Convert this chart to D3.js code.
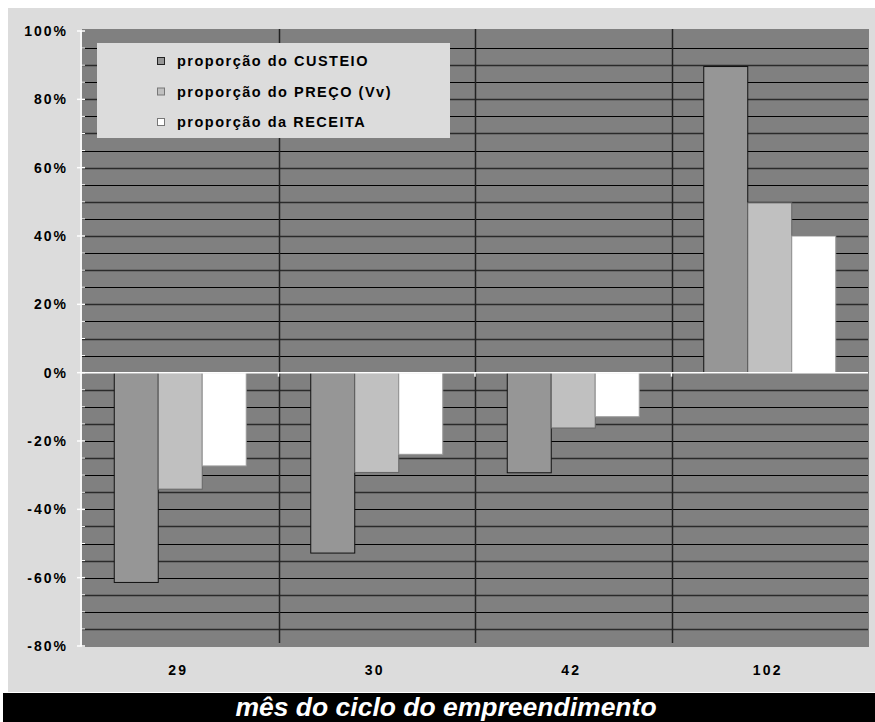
<!DOCTYPE html>
<html>
<head>
<meta charset="utf-8">
<script src="https://cdn.jsdelivr.net/npm/d3@7"></script>
<style>
  body { margin: 0; background: #fff; }
  text { font-family: "Liberation Sans", Arial, sans-serif; font-weight: bold; }
</style>
</head>
<body>
<div id="chart"></div>
<script>
// values (percent)
const categories = ["29", "30", "42", "102"];
const seriesNames = ["proporção do CUSTEIO", "proporção do PREÇO (Vv)", "proporção da RECEITA"];
const custeio = [-61.4, -52.8, -29.3, 89.6];
const preco = [-34.1, -29.2, -16.2, 49.7];
const receita = [-27.3, -23.9, -12.9, 40.0];
const yTicks = [100, 80, 60, 40, 20, 0, -20, -40, -60, -80];

const fills = ["#969696", "#c0c0c0", "#ffffff"];
const strokes = ["#111", "#666", "#999"];

const width = 875, height = 722;
const plot = {left: 82, right: 868, top: 31, bottom: 646};

const svg = d3.select("#chart").append("svg")
    .attr("width", width)
    .attr("height", height);

// background panels
svg.append("rect").attr("x", 8).attr("y", 8).attr("width", width - 8).attr("height", 684)
    .attr("fill", "#dcdcdc");
svg.append("rect").attr("x", 3).attr("y", 693).attr("width", width - 3).attr("height", 29)
    .attr("fill", "#000");

const x = d3.scaleBand().domain(categories).range([plot.left, plot.right]);
const xs = d3.scaleBand().domain(d3.range(3)).range([0, x.bandwidth()]).paddingOuter(0.733);
const y = d3.scaleLinear().domain([-80, 100]).range([plot.bottom, plot.top]);

// plot area
svg.append("rect")
    .attr("x", plot.left).attr("y", plot.top - 2)
    .attr("width", plot.right - plot.left + 1).attr("height", plot.bottom - plot.top + 3)
    .attr("fill", "#808080");

// gridlines every 5%
const grid = d3.range(-75, 100, 5).filter(d => d !== 0);
svg.append("g").selectAll("line").data(grid).enter().append("line")
    .attr("x1", plot.left).attr("x2", plot.right)
    .attr("y1", d => Math.round(y(d)) + 0.5).attr("y2", d => Math.round(y(d)) + 0.5)
    .attr("stroke", (d, i) => i % 2 ? "#000" : "#2a2a2a")
    .attr("stroke-width", (d, i) => i % 2 ? 1 : 1.5);

// category separators
svg.append("g").selectAll("line").data(categories.slice(1)).enter().append("line")
    .attr("x1", d => Math.round(x(d)) + 0.5).attr("x2", d => Math.round(x(d)) + 0.5)
    .attr("y1", plot.top - 2).attr("y2", plot.bottom - 3)
    .attr("stroke", "#222").attr("stroke-width", 1.5);

// legend box
const legend = svg.append("g");
legend.append("rect").attr("x", 97).attr("y", 43).attr("width", 353).attr("height", 95)
    .attr("fill", "#dcdcdc");

// bars
const data = [custeio, preco, receita];
data.forEach((vals, s) => {
    svg.append("g").selectAll("rect").data(vals).enter().append("rect")
        .attr("x", (d, i) => x(categories[i]) + xs(s))
        .attr("width", xs.bandwidth())
        .attr("y", d => y(Math.max(0, d)))
        .attr("height", d => Math.abs(y(d) - y(0)))
        .attr("fill", fills[s])
        .attr("stroke", strokes[s])
        .attr("stroke-width", 1);
});

// zero line
svg.append("line")
    .attr("x1", plot.left - 1).attr("x2", plot.right)
    .attr("y1", y(0)).attr("y2", y(0))
    .attr("stroke", "#fff").attr("stroke-width", 1.5);
// small ticks on zero line at category boundaries
svg.append("g").selectAll("line").data(categories.slice(1)).enter().append("line")
    .attr("x1", d => x(d)).attr("x2", d => x(d))
    .attr("y1", y(0)).attr("y2", y(0) + 4)
    .attr("stroke", "#fff").attr("stroke-width", 1.5);

// y axis
const yAxis = svg.append("g").attr("transform", "translate(" + (plot.left - 1) + ",0)");
yAxis.append("line").attr("y1", plot.top).attr("y2", plot.bottom)
    .attr("stroke", "#fff").attr("stroke-width", 1.5);
yAxis.selectAll(".minor").data(d3.range(-75, 100, 5).filter(d => d % 20 !== 0)).enter()
    .append("line")
    .attr("x1", 0).attr("x2", 4)
    .attr("y1", d => y(d)).attr("y2", d => y(d))
    .attr("stroke", "#fff").attr("stroke-width", 1);
yAxis.selectAll(".major").data(yTicks).enter().append("line")
    .attr("x1", -4).attr("x2", 4)
    .attr("y1", d => y(d)).attr("y2", d => y(d))
    .attr("stroke", "#fff").attr("stroke-width", 1.5);
yAxis.selectAll("text").data(yTicks).enter().append("text")
    .attr("x", -13)
    .attr("y", d => y(d) + 5)
    .attr("text-anchor", "end")
    .attr("font-size", 14)
    .attr("letter-spacing", 2)
    .attr("fill", "#000")
    .text(d => d + "%");

// x labels
svg.append("g").selectAll("text").data(categories).enter().append("text")
    .attr("x", d => x(d) + x.bandwidth() / 2 - 2)
    .attr("y", 675)
    .attr("text-anchor", "middle")
    .attr("font-size", 14)
    .attr("letter-spacing", 2.2)
    .attr("fill", "#000")
    .text(d => d);

// legend entries
seriesNames.forEach((name, i) => {
    const ly = 57 + i * 30.5;
    legend.append("rect").attr("x", 157.5).attr("y", ly + 0.5).attr("width", 7).attr("height", 7)
        .attr("fill", fills[i]).attr("stroke", i === 0 ? "#222" : "#777").attr("stroke-width", 1);
    legend.append("text").attr("x", 177).attr("y", ly + 9)
        .attr("font-size", 14.5).attr("letter-spacing", 1.5)
        .attr("fill", "#000")
        .text(name);
});

// axis title
svg.append("text")
    .attr("x", 446).attr("y", 716)
    .attr("text-anchor", "middle")
    .attr("font-size", 26.5)
    .attr("font-style", "italic")
    .attr("fill", "#fff")
    .text("mês do ciclo do empreendimento");
</script>
</body>
</html>
